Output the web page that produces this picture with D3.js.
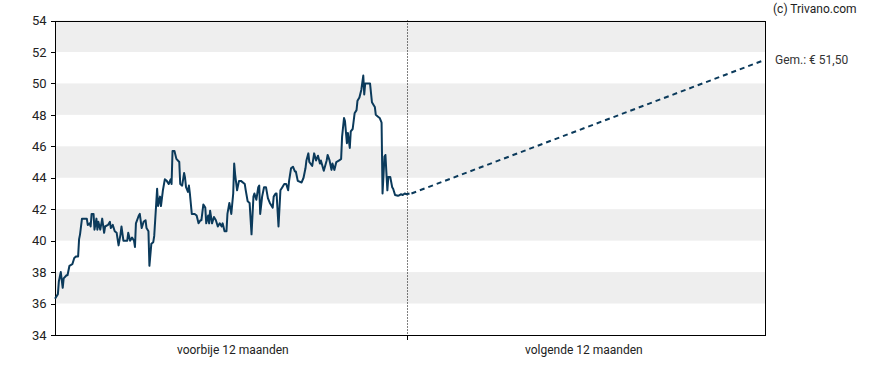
<!DOCTYPE html>
<meta charset="utf-8">
<title>Koersverloop</title>
<style>

body {
  margin: 0px;
  background: #fff;
}

text {
  font-family: Roboto, sans-serif;
}

.band {
  fill: #eeeeee;
}

.axis path, .axis line {
  stroke: #000;
  shape-rendering: crispEdges;
}

.axis text {
  font-size: 13px;
  fill: #222;
}

path.koers {
  fill: none;
  stroke: #0b3a5b;
  stroke-width: 2px;
  stroke-linejoin: round;
}

path.verwachting {
  fill: none;
  stroke: #0b3a5b;
  stroke-width: 2px;
  stroke-dasharray: 5,4;
}

</style>

<script src="https://cdn.jsdelivr.net/npm/d3@7"></script>

<body>

<script>

var width = 888, height = 370;

// day number within the 24-month window (0 = 12 months ago, 365 = today)
var days = [0, 3, 4, 6, 8, 9, 12, 13, 15, 18, 20, 22, 24, 25, 26, 28, 31, 33, 34, 36,
  37, 38, 40, 41, 43, 44, 45, 47, 49, 51, 52, 55, 57, 58, 60, 62, 64, 66, 68, 69,
  71, 73, 75, 76, 78, 80, 82, 83, 84, 87, 88, 90, 92, 94, 95, 97, 98, 100, 102, 103,
  105, 106, 107, 109, 110, 112, 114, 116, 118, 120, 121, 122, 124, 126, 129, 130, 132, 134, 135, 136,
  138, 139, 140, 142, 145, 147, 149, 151, 152, 154, 156, 157, 159, 160, 161, 163, 165, 167, 169, 171,
  173, 174, 176, 178, 179, 181, 183, 185, 186, 187, 189, 191, 193, 197, 198, 200, 202, 204, 206, 207,
  209, 211, 212, 213, 215, 217, 219, 221, 223, 226, 227, 229, 230, 232, 234, 236, 238, 240, 242, 243,
  245, 247, 249, 250, 252, 256, 258, 260, 261, 263, 264, 267, 269, 271, 273, 275, 276, 279, 282, 283,
  285, 287, 288, 290, 292, 295, 297, 298, 300, 301, 303, 304, 306, 307, 309, 311, 313, 314, 316, 318,
  320, 321, 322, 326, 327, 329, 331, 332, 333, 335, 337, 339, 340, 342, 343, 345, 346, 348, 350, 351,
  353, 356, 358, 359, 361, 363, 365, 368];

var prices = [36.3, 36.6, 37.4, 38.0, 37.0, 37.6, 37.8, 37.8, 38.4, 38.5, 38.9, 39.0, 39.0, 40.1, 40.4, 41.4, 41.4, 41.4, 41.0, 41.1,
  40.9, 41.7, 41.7, 40.7, 41.4, 40.7, 41.2, 40.7, 41.4, 40.5, 40.9, 41.0, 41.2, 40.8, 41.0, 40.6, 40.5, 39.7, 40.4, 40.9,
  40.0, 40.0, 40.0, 40.5, 40.0, 40.2, 40.0, 39.6, 41.1, 41.6, 41.7, 40.8, 41.2, 41.3, 40.8, 40.6, 38.4, 39.8, 39.9, 40.3,
  42.3, 43.3, 42.2, 42.8, 42.2, 43.2, 43.9, 43.8, 43.6, 43.9, 43.6, 45.7, 45.7, 45.2, 45.0, 43.6, 43.5, 44.3, 44.0, 43.4,
  43.1, 43.5, 43.0, 41.7, 41.7, 41.6, 41.1, 41.3, 41.3, 42.3, 42.1, 41.1, 41.6, 41.1, 41.9, 41.1, 41.5, 41.3, 40.9, 41.1,
  40.9, 41.1, 40.6, 40.6, 41.7, 42.4, 41.7, 43.0, 44.9, 44.2, 43.2, 43.8, 43.8, 43.6, 43.2, 42.5, 42.4, 40.4, 42.8, 43.0,
  42.6, 43.4, 43.5, 41.7, 42.8, 43.4, 43.4, 42.7, 42.4, 42.1, 42.8, 43.0, 43.0, 40.9, 43.2, 43.4, 43.6, 43.6, 43.2, 43.8,
  44.6, 44.7, 44.4, 44.4, 43.8, 43.7, 44.0, 44.6, 45.1, 45.55, 45.0, 44.75, 45.55, 45.1, 45.4, 44.9, 45.1, 44.45, 45.1, 45.45,
  45.1, 44.5, 44.9, 44.5, 45.0, 45.1, 45.2, 46.6, 47.8, 47.6, 46.2, 46.85, 45.9, 46.95, 47.1, 48.1, 48.3, 48.9, 49.1, 49.6,
  50.5, 49.3, 50.0, 50.0, 50.0, 48.8, 48.6, 48.5, 48.0, 47.9, 47.8, 47.5, 43.0, 45.35, 45.45, 43.2, 44.05, 44.05, 43.4, 43.3,
  42.9, 42.85, 42.9, 42.95, 42.9, 43.0, 42.95, 43.0];

var today = 365, windowEnd = 737;
var targetPrice = 51.5;
var yTicks = [34, 36, 38, 40, 42, 44, 46, 48, 50, 52, 54];
var periodLabels = ["voorbije 12 maanden", "volgende 12 maanden"];

var x = d3.scaleLinear().domain([0, windowEnd]).range([55, 765]);
var y = d3.scaleLinear().domain([34, 54]).range([335, 20.5]);

var svg = d3.select("body").append("svg")
    .attr("width", width)
    .attr("height", height);

// alternating grey bands
var bandStarts = d3.range(36, 54, 4);
svg.selectAll("rect.band")
    .data(bandStarts)
  .enter().append("rect")
    .attr("class", "band")
    .attr("x", x(0))
    .attr("width", x(windowEnd) - x(0))
    .attr("y", function(d) { return y(d + 2); })
    .attr("height", function(d) { return y(d) - y(d + 2); });

// frame
svg.append("rect")
    .attr("x", x(0) + 0.5)
    .attr("y", y(54) + 0.5)
    .attr("width", x(windowEnd) - x(0))
    .attr("height", y(34) - y(54))
    .attr("fill", "none")
    .attr("stroke", "#000")
    .attr("shape-rendering", "crispEdges");

// today marker
svg.append("line")
    .attr("x1", Math.round(x(today)) + 0.5)
    .attr("x2", Math.round(x(today)) + 0.5)
    .attr("y1", y(54))
    .attr("y2", y(34))
    .attr("stroke", "#000")
    .attr("stroke-width", 1)
    .attr("stroke-dasharray", "1,2");

svg.append("g")
    .attr("class", "axis")
    .attr("transform", "translate(" + (x(0) + 0.5) + ",0)")
    .call(d3.axisLeft(y).tickValues(yTicks).tickSize(5).tickPadding(4))
    .call(function(g) { g.select(".domain").remove(); });

// bottom tick at today + period labels
svg.append("line")
    .attr("x1", Math.round(x(today)) + 0.5)
    .attr("x2", Math.round(x(today)) + 0.5)
    .attr("y1", y(34))
    .attr("y2", y(34) + 5)
    .attr("stroke", "#000");

svg.selectAll("text.period")
    .data(periodLabels)
  .enter().append("text")
    .attr("class", "period")
    .attr("x", function(d, i) { return i == 0 ? x(today / 2) + 2 : x((today + windowEnd) / 2) - 2; })
    .attr("y", y(34) + 19)
    .attr("text-anchor", "middle")
    .attr("font-size", "12px")
    .attr("fill", "#222")
    .text(function(d) { return d; });

var line = d3.line()
    .x(function(d) { return x(d[0]); })
    .y(function(d) { return y(d[1]); });

svg.append("path")
    .attr("class", "koers")
    .attr("d", line(d3.zip(days, prices)));

var last = days.length - 1;
svg.append("path")
    .attr("class", "verwachting")
    .attr("d", line([[days[last] + 2, prices[last]], [windowEnd, targetPrice]]));

svg.append("text")
    .attr("x", 775)
    .attr("y", y(targetPrice) + 4)
    .attr("font-size", "12px")
    .attr("fill", "#333")
    .text("Gem.: € " + d3.format(".2f")(targetPrice).replace(".", ","));

svg.append("text")
    .attr("x", 773)
    .attr("y", 13)
    .attr("font-size", "12px")
    .attr("fill", "#222")
    .text("(c) Trivano.com");

</script>
